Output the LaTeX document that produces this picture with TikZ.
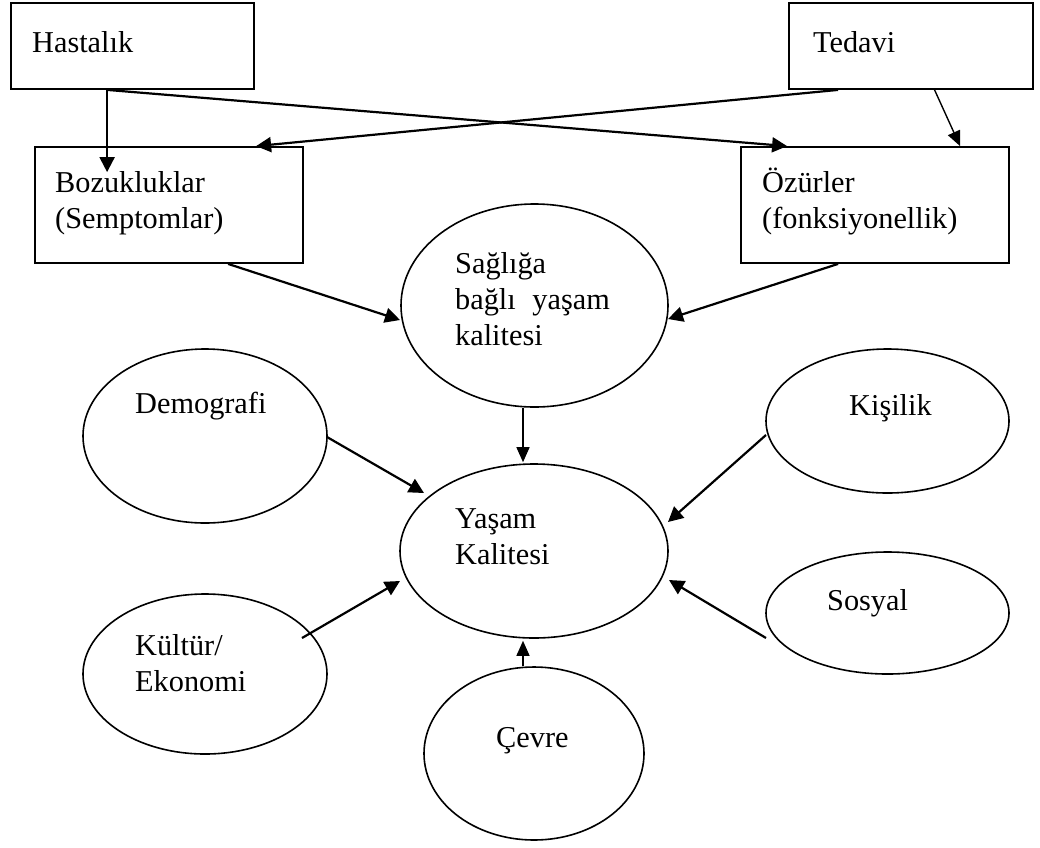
\documentclass[tikz,border=0pt]{standalone}
\usepackage{fontspec}
\setmainfont{Liberation Serif}
\usetikzlibrary{arrows.meta,calc,shapes.geometric}
\begin{document}
\begin{tikzpicture}[x=1pt,y=-1pt,
  box/.style={draw,line width=1.8pt,rectangle,inner sep=0pt},
  oval/.style={draw,line width=1.6pt,ellipse,inner sep=0pt},
  txt/.style={inner sep=0pt,anchor=base west,align=left,font=\fontsize{30.3}{36}\selectfont},
  arr/.style={line width=2.2pt,-{Triangle[length=15pt,width=15pt]}},
  tarr/.style={line width=1.4pt,-{Triangle[length=15pt,width=13pt]}}]
\useasboundingbox (0,0) rectangle (1040,847);
% boxes
\node[box,minimum width=243pt,minimum height=86pt] (hast) at (132.5,46) {};
\node[box,minimum width=244pt,minimum height=86pt] (ted) at (911,46) {};
\node[box,minimum width=268pt,minimum height=116pt] (boz) at (169,205) {};
\node[box,minimum width=268pt,minimum height=116pt] (ozur) at (875,205) {};
% ellipses
\node[oval,minimum width=267pt,minimum height=203pt] (sag) at (534.5,305.5) {};
\node[oval,minimum width=268pt,minimum height=174pt] (yas) at (534,551) {};
\node[oval,minimum width=244pt,minimum height=174pt] (dem) at (205,436) {};
\node[oval,minimum width=243pt,minimum height=144pt] (kis) at (887.5,421) {};
\node[oval,minimum width=244pt,minimum height=160pt] (kul) at (205,674) {};
\node[oval,minimum width=243pt,minimum height=122pt] (sos) at (887.5,613) {};
\node[oval,minimum width=220pt,minimum height=173pt] (cev) at (534,753.5) {};
% texts (anchor = baseline of last line)
\node[txt] (hastT) at (32,52) {Hastalık};
\node[txt] (tedT) at (813,52) {Tedavi};
\node[txt] (bozT) at (55,228) {Bozukluklar\\(Semptomlar)};
\node[txt] (ozurT) at (762,228) {Özürler\\(fonksiyonellik)};
\node[txt] (sagT) at (455,345) {Sağlığa\\bağlı\hspace{0.55em}yaşam\\kalitesi};
\node[txt] (demT) at (135,413) {Demografi};
\node[txt] (kisT) at (849,415) {Kişilik};
\node[txt] (yasT) at (455,564) {Yaşam\\Kalitesi};
\node[txt] (kulT) at (135,691) {Kültür/\\Ekonomi};
\node[txt] (sosT) at (827,610) {Sosyal};
\node[txt] (cevT) at (496,747) {Çevre};
% connectors
\draw[arr] ($(hast.south west)+(97,0)$) -- ($(boz.north west)+(73,26)$);
\draw[arr] ($(hast.south west)+(97,0)$) -- ($(ozur.north west)+(47,0)$);
\draw[arr] ($(ted.south west)+(50,0)$) -- ($(boz.north west)+(222,0)$);
\draw[tarr] ($(ted.south west)+(146,-1)$) -- ($(ozur.north west)+(220,0)$);
\draw[arr] ($(boz.south west)+(194,0)$) -- ($(sag.center)+(-134.5,14.5)$);
\draw[arr] ($(ozur.south west)+(98,0)$) -- ($(sag.center)+(133.5,13.5)$);
\draw[tarr] ($(sag.south)+(-11.5,0)$) -- ($(yas.north)+(-11,-1)$);
\draw[arr] ($(dem.center)+(122,1)$) -- ($(yas.center)+(-110,-58)$);
\draw[arr] ($(kis.center)+(-121.5,14)$) -- ($(yas.center)+(134,-29)$);
\draw[arr] ($(kul.center)+(97,-36)$) -- ($(yas.center)+(-134,30)$);
\draw[arr] ($(sos.center)+(-121.5,25)$) -- ($(yas.center)+(135,29)$);
\draw[tarr] ($(cev.north)+(-11,0)$) -- ($(yas.south)+(-11,2)$);
\end{tikzpicture}
\end{document}
